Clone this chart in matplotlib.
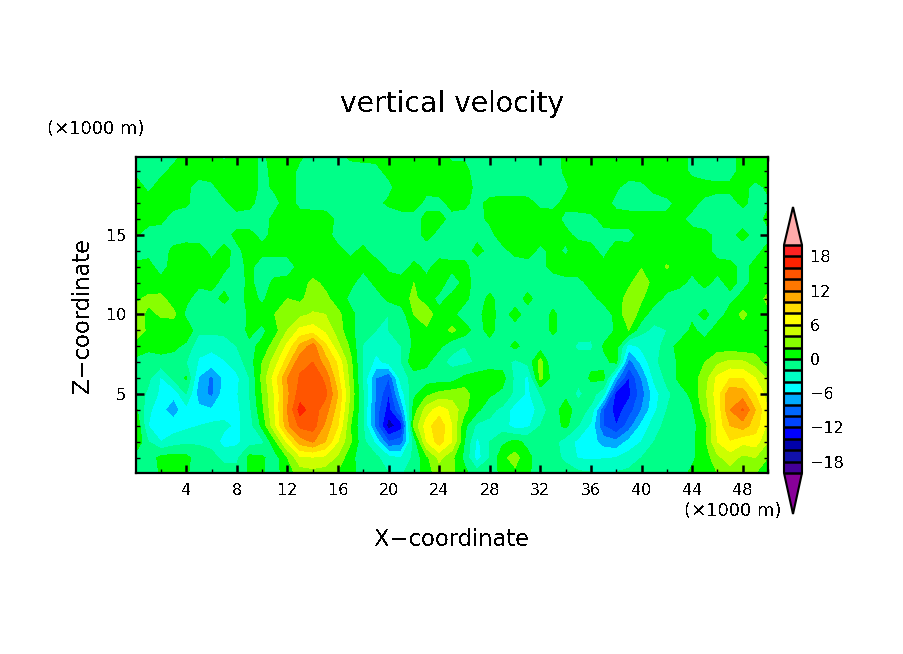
import numpy as np
import matplotlib
matplotlib.use('Agg')
import matplotlib.pyplot as plt
from matplotlib.ticker import MultipleLocator

plt.rcParams['text.antialiased'] = False

# grid, km
x_km = np.arange(0, 51)
z_km = np.arange(0, 21)

# vertical velocity, one list per height
w_z00 = [-1,-1,0.2,0.4,0.2,-0.8,-1,-1.2,-1.2,0.2, 0.2,-0.8,1,2.8,3.2,2.8,1.8,0.5,-0.8,-1, -2,-2.2,-1,1,3,2.5,0.5,-1,-1,0.5, 1.5,0.3,-1,-1,-1,-1.5,-1.8,-1.8,-1.8,-1.5, -1,-1,-0.8,-0.5,0.3,0.5,2,3,2.5,2, 1]
w_z01 = [-1,-1,0.5,0.8,0.5,-1,-1.5,-2.5,-2.5,0.6, 0.3,-1,2,5.5,5.8,5.5,3.5,0.5,-1,-1.5, -3.5,-4,-1.5,1.5,4.5,2.5,-0.5,-5,-2,1.5, 2.8,0.5,-1,-1.2,-2.5,-4.2,-4.3,-4.2,-4,-3, -2,-1.5,-1,-0.8,-0.3,0.8,3.5,5,3.5,4, 2]
w_z02 = [2,-2,-4,-3,-2.5,-2.3,-2.5,-5,-4.5,-2.8, -2.5,1.5,6.5,11,12.2,10,6,2.2,-1.5,-4.5, -10,-9,-1.5,6,9,6,0,-4.5,-2,-0.5, 0.5,-0.5,-1,-1.3,-3,-4.5,-5,-7,-7.5,-5.5, -4,-2,-1.3,-1,-0.5,1.5,6,7.8,6.5,7, 4]
w_z03 = [2,-4,-6.1,-5,-4.5,-4,-3.5,-3.5,-4.5,-3, 0.5,5.5,11.5,14.5,15,11.5,8,2,-2,-9, -15,-13,2.5,7,9.5,6,0.5,-2.5,-2.5,-3, -5,-4.5,-2,-1,0.5,-2,-4.5,-10,-12,-9, -5.5,-3,-1.3,-1,-0.5,1,6.5,10,11,9, 5.5]
w_z04 = [0.5,-3.5,-5.5,-7,-4.8,-5.5,-5.8,-5,-4.5,-2.5, 1.5,6,12,16.8,15,13,9,3,-2,-9, -13,-8,1,5,7,5.5,2.5,0.5,-1.5,-2.5, -5,-5.5,-3,-1,1,-1,-2.5,-10,-13,-11, -8,-4.5,-2,-1,-0.3,3,6.5,12,14.2,10, 6]
w_z05 = [-0.5,-2.5,-4.5,-5.5,-2,-7,-8.5,-5,-4.2,-2, 2,6.2,11.5,15,15.5,14.5,10,3.5,-2,-8, -12,-5,-0.5,1.5,2.5,3,3,0.5,0.3,-0.5, -2.5,-4.5,-2,-1,-0.5,-2.5,-1,-3.5,-13,-12.5, -9,-5,-2.5,-1,0.5,3.5,7,11.5,11,8, 5]
w_z06 = [0,-1.5,-4.2,-1.5,0.2,-6.2,-8.5,-5.5,-4.5,-2, 2.5,7,12,14.2,15.5,13.5,8.5,3,-2.5,-8, -10,-3,-1.3,-1,-1,-1,0.5,1,1.5,0.8, -2.5,-4.5,2.5,-1,-1,-1.5,0.3,0.5,-7,-12, -8,-3.5,-1.5,0.5,1,3,6.5,8,8,6, 3.5]
w_z07 = [-0.5,-1,-1,-1,-2,-4.2,-5,-4.2,-3,-1, 2,5,9,13.5,14,11,7.5,2.5,-2.5,-4.5, -3.5,-2,1.5,0.5,-1.5,-2.5,-2.5,-1.8,-1.3,-1, -2.5,-1.5,2.8,-2,-1,-1.5,-0.5,-0.5,0.5,-9, -5.5,-2.5,-1,0.3,1,2,3.5,4.5,4.3,3, 1]
w_z08 = [1,0.5,1,0.5,-0.5,-3.5,-3.5,-3,-2,-0.5, 0.5,3,6.5,10.5,13,8.5,4.5,1.5,-2.2,-3.5, -2.5,-2,0.5,1.2,0.5,-1.5,-2,-1.5,-1,-1, 0.5,-1,-1,-1.2,-1.5,-2.2,-2.5,0.2,0.8,-5, -3.5,-3,-1,0.8,1.2,1.2,1,0.8,0.5,1, 1.2]
w_z09 = [3.5,1.5,1,0.5,1.5,-1.5,-1.5,-1.5,-1.2,0.5, -0.5,1.2,4,6.5,7,5.5,3,0.5,-1.2,-2, -2,-1.5,0.5,1.5,0.5,2.5,1,-1,0.8,-1.5, -1,-1,-1.5,0.5,-1.2,-1.5,-1,-1,0.2,2, -1.5,-2.5,-2,-1.5,0.5,-1,1,0.5,1,0.5, 2]
w_z10 = [3,1.5,2.2,2.5,-0.5,-2,-1.5,-2,-2,0.5, 1,2,2.5,3.5,4.2,4,2.5,0.5,-1,-1.5, -2,-1,2,3.5,0.5,0.5,-1,-0.5,0.8,-1, 0.8,-1,-1.5,0.5,-1.2,-1.5,-1,-1,0.5,3.5, 1,-1.2,-1.5,-1.5,-0.5,0.5,-1,0.8,2.5,1, 1.5]
w_z11 = [1.5,2.5,2.5,1,0.5,-1,-1,0.8,-1.5,1, -0.5,1.5,2,1.5,3,2.5,1,-0.5,-2,-1, 0.5,1,2.5,0.8,-0.5,0.5,0.5,-1,0.5,-1, -1,0.6,-1,-1,-1,-1,-0.5,0.5,0.8,3, 2.2,0.8,-0.5,-1,-1,-1,-1,-0.5,0.5,1, 2.5]
w_z12 = [2,0.5,0.8,0.5,0.8,0.5,1,-1,-1,0.5, -1,0.5,0.5,1,2.5,1.5,0.5,0.5,-1,0.5, 1,0.8,2,0.5,1,-1,0.5,-0.5,-1,-1, -1,-1,-1,-0.8,-0.5,-0.5,0.5,0.5,0.8,1.5, 3.5,1,0.8,0.5,-0.5,0.5,-0.5,0.5,-0.5,0.5, 1]
w_z13 = [0.5,0.8,-1,1,0.8,1,0.5,0.5,-0.8,0.5, -1,-1,-0.8,0.5,0.5,0.8,0.5,0.8,0.5,1, -0.5,-1,0.5,-0.5,0.8,0.5,0.5,-1,-0.8,-0.8, -1,-0.8,-0.5,0.5,0.8,0.8,0.8,0.5,1,1, 1.8,0.8,2.2,1,0.5,0.5,0.5,0.5,-0.5,0.5, 1]
w_z14 = [-1,-0.8,-1,0.5,1,0.8,-0.5,0.5,-0.5,0.8, 0.5,0.5,0.5,0.8,0.8,1,0.5,-0.5,0.5,-1, -1,-1,-1,-0.8,-0.8,-0.8,-0.8,0.5,-0.5,-0.5, 0.5,0.8,-0.5,0.5,-0.3,1,0.5,-0.5,0.8,0.5, 0.8,0.8,0.5,1,0.5,0.5,-0.5,-0.8,-0.8,-0.5, 0.5]
w_z15 = [0.3,-1,-1,-1,-1,-1,-0.8,-0.8,0.5,0.5, -0.5,0.5,0.5,1,1,0.8,-0.8,-1,-1,-1, -1,-1,-0.8,0.5,-0.5,-0.5,-0.5,-0.5,-0.5,0.8, 1,1,0.8,0.8,0.5,-0.5,-0.5,-0.5,-0.5,-0.5, 0.5,0.5,0.8,0.5,0.5,0.5,-0.5,-0.5,0.5,-0.5, -0.5]
w_z16 = [0.5,0.8,0.5,-1,-1,-1,-1,-1,-1,-1, -0.8,0.5,0.8,0.8,1,1,-0.5,-1,-1,-1, -1,-1,-0.8,0.5,0.5,-0.5,-0.5,-0.5,0.3,1, 1,1.2,1,0.8,-0.5,-0.8,-0.5,0.5,0.8,0.8, 0.8,0.8,0.5,0.3,-0.5,-1,-1,-0.5,-0.8,-0.8, 0.5]
w_z17 = [1,1,0.5,0.8,0.3,-1,-1,-0.5,1,0.6, -1,-0.5,0.8,-0.5,-0.8,-1,-1,-0.8,-0.5,-0.5, 0.3,1,0.8,-0.5,-0.5,0.5,0.3,-0.5,0.5,0.8, 0.8,0.6,-0.5,-0.5,0.5,1,1,0.8,-0.5,-0.8, -1,-0.8,-0.5,0.5,0.5,-0.5,-0.8,-0.5,0.3,-0.5, -0.3]
w_z18 = [1,-0.5,0.8,1,0.5,-1,-0.5,1,1.2,1, -0.5,0.3,1,-0.5,-1,-1,-1,-1,-1,-0.8, -0.5,1,0.8,0.5,0.8,0.8,0.8,-0.5,-1,-1, -1,-1,-1,-1,-0.3,1,1,1,0.3,-0.8, -0.5,0.5,1,1,1,0.8,0.5,0.3,0.5,-0.5, 0.3]
w_z19 = [-0.5,-1,-0.5,0.5,0.5,1,1,1,1,0.8, -0.5,0.5,1,-0.5,-1,-1,-1,-1,-1,-0.5, 0.5,0.8,1,1,0.8,0.8,0.5,-0.8,-0.8,-0.8, -0.8,-0.8,-0.8,-0.8,0.3,1,1,1,1,1, 1,1,1,1,-0.5,-1,-1,-0.5,0.5,1, 1]
w_z20 = [-0.5,-0.5,-0.5,-0.5,0.3,0.5,0.5,-0.5,1,1, -0.5,1,1,0.3,-0.5,-0.5,-0.5,0.5,0.8,0.5, 1,1,1,0.5,0.8,-0.5,-0.3,-0.8,-0.8,-0.8, -0.8,-0.8,-0.8,-0.8,0.5,0.8,0.8,0.5,-0.5,0.5, 1,1,1,1,-0.5,-1,-1,-0.5,0.5,1, 1]

w = np.array([w_z00, w_z01, w_z02, w_z03, w_z04, w_z05, w_z06, w_z07, w_z08, w_z09, w_z10,
              w_z11, w_z12, w_z13, w_z14, w_z15, w_z16, w_z17, w_z18, w_z19, w_z20])

levels = np.arange(-20, 21, 2)
fill_colors = ['#880099', '#440099', '#1111aa', '#0000aa', '#0000ff', '#0044ff', '#0066ff', '#00aaff',
               '#00ffff', '#00ffc4', '#00ff88', '#00ff00', '#88ff00', '#ccff00', '#ffff00', '#ffdd00',
               '#ffaa00', '#ff7700', '#ff5500', '#ff2200', '#ff2222', '#ffaaaa']
xticks = np.arange(4, 49, 4)
zticks = [5, 10, 15]
bar_ticks = [-18, -12, -6, 0, 6, 12, 18]

W, H = 904, 654
fig = plt.figure(figsize=(W / 100, H / 100), dpi=100)
ax = fig.add_axes([136 / W, (H - 473) / H, 632 / W, 316 / H])

cs = ax.contourf(x_km, z_km, w, levels=levels, colors=fill_colors, extend='both')
ax.set_xlim(0.03, 50)
ax.set_ylim(0.03, 19.9)

ax.set_xticks(xticks)
ax.set_yticks(zticks)
ax.xaxis.set_minor_locator(MultipleLocator(2))
ax.yaxis.set_minor_locator(MultipleLocator(1))
ax.tick_params(which='both', direction='in', top=True, right=True, labelsize=11.5, pad=7)
ax.tick_params(which='major', length=6, width=1.8)
ax.tick_params(which='minor', length=3, width=1)
for s in ax.spines.values():
    s.set_linewidth(1.6)

fig.text(452 / W, 1 - 104 / H, 'vertical velocity', ha='center', va='center', fontsize=20.3)
fig.text(452 / W, 1 - 539 / H, 'X\u2212coordinate', ha='center', va='center', fontsize=16.3)
fig.text(83 / W, 1 - 315 / H, 'Z\u2212coordinate', ha='center', va='center', rotation=90, fontsize=16.3)
fig.text(96 / W, 1 - 129 / H, '(\u00d71000 m)', ha='center', va='center', fontsize=13)
fig.text(733 / W, 1 - 511 / H, '(\u00d71000 m)', ha='center', va='center', fontsize=13)

# matplotlib keeps the triangles inside the colorbar axes, so it spans tip to tip
cax = fig.add_axes([784 / W, (H - 514) / H, 18 / W, 307 / H])
cb = fig.colorbar(cs, cax=cax, ticks=bar_ticks, drawedges=True, extendfrac=[0.18, 0.167])
cb.ax.tick_params(length=0, labelsize=11.5, pad=6)
cb.dividers.set_linewidth(1.8)
cb.dividers.set_color('black')
cb.outline.set_linewidth(1.5)

fig.savefig('out.png', dpi=100)
